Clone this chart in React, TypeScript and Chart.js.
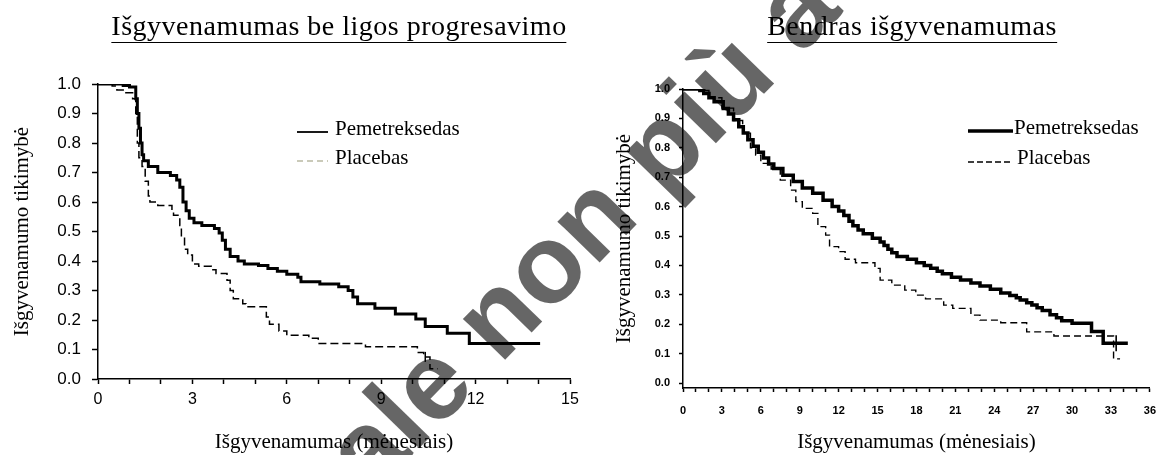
import React, { useEffect, useRef } from 'react';
import { Chart, registerables } from 'chart.js';

Chart.register(...registerables);

// ---------- data ----------
const chartTitles = ['Išgyvenamumas be ligos progresavimo', 'Bendras išgyvenamumas'];
const xAxisTitle = 'Išgyvenamumas (mėnesiais)';
const yAxisTitle = 'Išgyvenamumo tikimybė';
const seriesLabels = ['Pemetreksedas', 'Placebas'];
const watermarkText = 'Medicinale non più autorizzato';

// Progression-free survival (left)
const pfsPemTime = [0, 0.8, 1.0, 1.2, 1.25, 1.3, 1.35, 1.4, 1.45, 1.6, 1.9, 2.3, 2.5, 2.6, 2.7, 2.8, 2.9, 3.05, 3.3, 3.7, 3.85, 3.95, 4.05, 4.2, 4.45, 4.65, 5.1, 5.4, 5.7, 6.0, 6.35, 6.45, 7.05, 7.65, 7.95, 8.1, 8.25, 8.8, 9.45, 10.1, 10.4, 11.1, 11.8, 14.05];
const pfsPemSurv = [1.0, 0.995, 0.99, 0.95, 0.9, 0.85, 0.8, 0.76, 0.74, 0.72, 0.7, 0.69, 0.675, 0.65, 0.6, 0.57, 0.545, 0.53, 0.52, 0.51, 0.495, 0.47, 0.44, 0.415, 0.4, 0.39, 0.385, 0.375, 0.365, 0.355, 0.345, 0.33, 0.322, 0.313, 0.3, 0.278, 0.255, 0.24, 0.22, 0.203, 0.178, 0.155, 0.12, 0.12];
const pfsPlaTime = [0, 0.45, 0.6, 0.8, 1.1, 1.2, 1.25, 1.3, 1.4, 1.5, 1.6, 1.65, 1.9, 2.35, 2.4, 2.6, 2.65, 2.75, 2.85, 3.0, 3.2, 3.6, 3.75, 4.1, 4.2, 4.3, 4.6, 4.7, 5.35, 5.45, 5.75, 6.0, 6.7, 7.0, 8.5, 10.15, 10.35, 10.55, 10.8];
const pfsPlaSurv = [1.0, 0.993, 0.98, 0.97, 0.95, 0.9, 0.8, 0.75, 0.72, 0.67, 0.62, 0.6, 0.588, 0.57, 0.555, 0.52, 0.48, 0.44, 0.42, 0.39, 0.382, 0.37, 0.358, 0.335, 0.3, 0.272, 0.255, 0.245, 0.21, 0.186, 0.163, 0.148, 0.138, 0.12, 0.109, 0.09, 0.075, 0.035, 0.035];
const pfsCensorTime = [10.4];
const pfsCensorSurv = [0.075];

// Overall survival (right)
const osPemTime = [0, 1.3, 1.6, 2.0, 2.4, 3.1, 3.5, 3.9, 4.3, 4.65, 5.0, 5.4, 5.8, 6.2, 6.6, 7.0, 7.7, 8.5, 9.2, 10.0, 10.8, 11.5, 12.0, 12.4, 12.8, 13.1, 13.5, 13.9, 14.6, 15.2, 15.5, 15.8, 16.1, 16.5, 17.3, 18.0, 18.6, 19.1, 19.6, 20.0, 20.7, 21.4, 22.2, 22.9, 23.7, 24.5, 25.2, 25.7, 26.0, 26.5, 26.9, 27.3, 27.7, 28.3, 28.8, 29.2, 30.0, 31.5, 32.4, 34.3];
const osPemSurv = [1.0, 0.995, 0.985, 0.97, 0.957, 0.934, 0.915, 0.895, 0.872, 0.85, 0.827, 0.805, 0.785, 0.765, 0.745, 0.73, 0.707, 0.685, 0.663, 0.645, 0.622, 0.6, 0.585, 0.57, 0.55, 0.535, 0.52, 0.508, 0.492, 0.48, 0.468, 0.455, 0.443, 0.43, 0.421, 0.409, 0.4, 0.39, 0.38, 0.372, 0.36, 0.35, 0.34, 0.33, 0.319, 0.306, 0.298, 0.29, 0.282, 0.273, 0.265, 0.256, 0.247, 0.232, 0.222, 0.212, 0.203, 0.175, 0.135, 0.135];
const osPlaTime = [0, 1.3, 2.0, 3.0, 3.9, 4.6, 5.2, 5.6, 6.0, 6.8, 7.5, 8.3, 8.7, 9.2, 10.0, 10.4, 11.0, 11.3, 12.0, 12.5, 13.3, 14.8, 15.2, 16.1, 17.1, 17.95, 18.7, 20.1, 20.8, 22.2, 22.9, 24.5, 26.5, 28.6, 33.2, 33.7];
const osPlaSurv = [1.0, 0.995, 0.97, 0.935, 0.893, 0.85, 0.8, 0.775, 0.747, 0.728, 0.69, 0.656, 0.617, 0.594, 0.577, 0.532, 0.503, 0.464, 0.447, 0.421, 0.409, 0.39, 0.35, 0.333, 0.316, 0.299, 0.286, 0.265, 0.254, 0.231, 0.214, 0.205, 0.174, 0.16, 0.082, 0.082];
const osCensorTime = [33.4];
const osCensorSurv = [0.135];

const pts = (t: number[], s: number[]) => t.map((x, i) => ({ x, y: s[i] }));

// ---------- legend plugin ----------
const kmLegend = {
  id: 'kmLegend',
  afterDraw(chart: any, _args: any, opts: any) {
    const ctx = chart.ctx;
    ctx.save();
    (opts.items || []).forEach((it: any) => {
      ctx.beginPath();
      ctx.setLineDash(it.dash || []);
      ctx.lineWidth = it.lineWidth;
      ctx.strokeStyle = it.color;
      ctx.moveTo(it.x1, it.ly);
      ctx.lineTo(it.x2, it.ly);
      ctx.stroke();
      ctx.setLineDash([]);
      ctx.font = opts.font;
      ctx.fillStyle = '#000';
      ctx.textBaseline = 'middle';
      ctx.textAlign = 'left';
      ctx.fillText(it.label, it.tx, it.ty);
    });
    ctx.restore();
  },
};

function makeConfig(p: any) {
  return {
    type: 'line',
    data: {
      datasets: [
        { label: seriesLabels[0], data: p.pem, borderColor: '#000', borderWidth: p.pemWidth, stepped: true, pointRadius: 0, fill: false },
        { label: seriesLabels[1], data: p.pla, borderColor: '#000', borderWidth: p.plaWidth, borderDash: p.plaDash, stepped: true, pointRadius: 0, fill: false },
        { label: 'censor', data: p.censor, showLine: false, pointStyle: p.censorStyle, rotation: p.censorRotation, pointRadius: p.censorRadius, borderColor: '#000', backgroundColor: '#000', borderWidth: p.censorWidth },
      ],
    },
    options: {
      animation: false,
      responsive: true,
      maintainAspectRatio: false,
      layout: { padding: { top: p.padTop, right: p.padRight, left: 0, bottom: 0 } },
      plugins: {
        legend: { display: false },
        tooltip: { enabled: false },
        kmLegend: { font: p.legendFont, items: p.legendItems },
      },
      scales: {
        x: {
          type: 'linear',
          min: 0,
          max: p.xMax,
          ticks: {
            stepSize: 1,
            autoSkip: false,
            maxRotation: 0,
            includeBounds: false,
            callback: (v: any) => (Math.round(v) % 3 === 0 ? String(Math.round(v)) : ''),
            font: p.xTickFont,
            color: '#000',
            padding: p.xTickPad,
          },
          grid: { drawOnChartArea: false, drawTicks: true, tickLength: p.xTickLen, color: '#000', tickWidth: 1.5 },
          border: { display: true, color: '#000', width: 1.5 },
          title: { display: true, text: xAxisTitle, font: { family: 'Liberation Serif', size: 21 }, color: '#000', padding: { top: 0, bottom: 0 } },
          afterFit: (s: any) => { s.height = p.xAxisHeight; },
        },
        y: {
          type: 'linear',
          min: p.yMin,
          max: 1,
          ticks: {
            stepSize: p.yStep,
            includeBounds: false,
            callback: (v: any) => (Math.round(v * 100) % 10 === 0 ? Number(v).toFixed(1) : ''),
            font: p.yTickFont,
            color: '#000',
            padding: p.yTickPad,
          },
          grid: { drawOnChartArea: false, drawTicks: true, tickLength: p.yTickLen, color: '#000', tickWidth: 1.5 },
          border: { display: true, color: '#000', width: 1.5 },
          title: { display: true, text: yAxisTitle, font: { family: 'Liberation Serif', size: 21 }, color: '#000', padding: { top: p.yTitlePad, bottom: 0 } },
          afterFit: (s: any) => { s.width = p.yAxisWidth; },
        },
      },
    },
    plugins: [kmLegend],
  };
}

const leftParams = {
  pem: pts(pfsPemTime, pfsPemSurv),
  pla: pts(pfsPlaTime, pfsPlaSurv),
  censor: pts(pfsCensorTime, pfsCensorSurv),
  pemWidth: 3,
  plaWidth: 1.5,
  plaDash: [8, 4],
  censorStyle: 'line',
  censorRotation: 90,
  censorRadius: 5,
  censorWidth: 1.5,
  padTop: 84,
  padRight: 20,
  xMax: 15,
  yMin: 0,
  yStep: 0.1,
  xTickFont: { family: 'Liberation Sans', size: 16 },
  yTickFont: { family: 'Liberation Sans', size: 17 },
  xTickPad: 6,
  yTickPad: 11,
  xTickLen: 5,
  yTickLen: 6,
  xAxisHeight: 76,
  yAxisWidth: 98,
  yTitlePad: 10,
  legendFont: '21px "Liberation Serif"',
  legendItems: [
    { label: seriesLabels[0], x1: 297, x2: 328, ly: 132, lineWidth: 1.8, color: '#000', dash: [], tx: 335, ty: 129 },
    { label: seriesLabels[1], x1: 297, x2: 328, ly: 161, lineWidth: 1.5, color: '#b9b9a2', dash: [6, 4], tx: 335, ty: 158 },
  ],
};

const rightParams = {
  pem: pts(osPemTime, osPemSurv),
  pla: pts(osPlaTime, osPlaSurv),
  censor: pts(osCensorTime, osCensorSurv),
  pemWidth: 3.5,
  plaWidth: 1.4,
  plaDash: [7, 4],
  censorStyle: 'cross',
  censorRotation: 0,
  censorRadius: 8,
  censorWidth: 1.6,
  padTop: 89,
  padRight: 8,
  xMax: 36,
  yMin: -0.017,
  yStep: 0.05,
  xTickFont: { family: 'Liberation Sans', size: 11, weight: 'bold' },
  yTickFont: { family: 'Liberation Sans', size: 11, weight: 'bold' },
  xTickPad: 12,
  yTickPad: 9,
  xTickLen: 4,
  yTickLen: 4,
  xAxisHeight: 67,
  yAxisWidth: 93,
  yTitlePad: 22,
  legendFont: '21px "Liberation Serif"',
  legendItems: [
    { label: seriesLabels[0], x1: 378, x2: 423, ly: 131, lineWidth: 3.5, color: '#000', dash: [], tx: 424, ty: 128 },
    { label: seriesLabels[1], x1: 378, x2: 423, ly: 162, lineWidth: 1.3, color: '#000', dash: [6, 3], tx: 427, ty: 158 },
  ],
};

function KMChart({ params }: { params: any }) {
  const ref = useRef<HTMLCanvasElement | null>(null);
  useEffect(() => {
    if (!ref.current) return;
    const chart = new Chart(ref.current, makeConfig(params) as any);
    return () => chart.destroy();
  }, [params]);
  return <canvas ref={ref} style={{ width: '100%', height: '100%' }} />;
}

const titleStyle: React.CSSProperties = {
  position: 'absolute',
  top: 10,
  transform: 'translateX(-50%)',
  fontFamily: '"Liberation Serif", serif',
  fontSize: 28,
  letterSpacing: '0.5px',
  lineHeight: '32px',
  whiteSpace: 'nowrap',
  color: '#000',
  borderBottom: '1.5px solid #000',
};

export default function App() {
  return (
    <div style={{ position: 'absolute', left: 0, top: 0, width: 1157, height: 455, background: '#fff', overflow: 'hidden' }}>
      <div style={{ position: 'absolute', left: 0, top: 0, width: 590, height: 455 }}>
        <KMChart params={leftParams} />
      </div>
      <div style={{ position: 'absolute', left: 590, top: 0, width: 578, height: 455 }}>
        <KMChart params={rightParams} />
      </div>
      <div style={{ ...titleStyle, left: 339 }}>{chartTitles[0]}</div>
      <div style={{ ...titleStyle, left: 912 }}>{chartTitles[1]}</div>
      <div
        style={{
          position: 'absolute',
          left: 619,
          top: 189,
          transform: 'translate(-50%, -50%) rotate(-45.8deg)',
          fontFamily: '"Liberation Sans", Arial, sans-serif',
          fontWeight: 'bold',
          fontSize: 111,
          lineHeight: 1,
          whiteSpace: 'nowrap',
          color: 'rgba(0,0,0,0.6)',
          pointerEvents: 'none',
        }}
      >
        {watermarkText}
      </div>
    </div>
  );
}
